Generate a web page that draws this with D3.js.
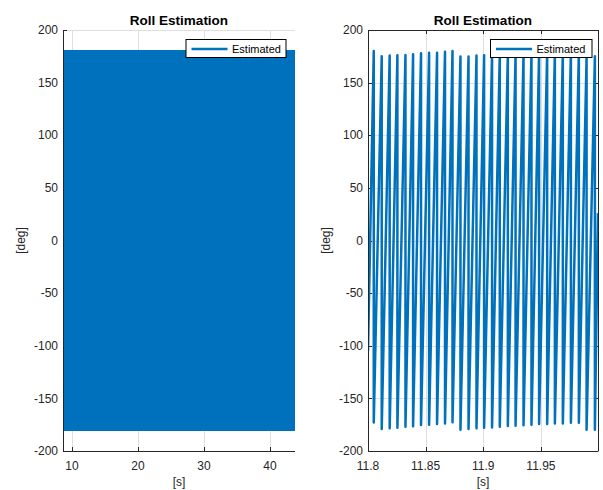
<!DOCTYPE html>
<html>
<head>
<meta charset="utf-8">
<script src="https://cdn.jsdelivr.net/npm/d3@7"></script>
<style>
  body { margin: 0; background: #fff; }
  svg { display: block; font-family: "Liberation Sans", Arial, Helvetica, sans-serif; }
</style>
</head>
<body>
<div id="chart"></div>
<script>
// Left panel: whole run, too dense to see single cycles -> min/max envelope
const envTimes = [8.6, 12, 16, 20, 24, 28, 32, 36, 40, 43.9];
const envMax = [180, 180, 180, 180, 180, 180, 180, 180, 180, 180];
const envMin = [-180, -180, -180, -180, -180, -180, -180, -180, -180, -180];

// Right panel: zoom 11.8 .. 12 s, wrap points of the sawtooth
const zoomStart = [11.8, -105];
const zoomEnd = [11.9995, 26];
const wrapTimes = [11.805, 11.8119, 11.8188, 11.8255, 11.8325, 11.8391, 11.846, 11.853, 11.8599, 11.8668,
    11.8733, 11.8802, 11.8872, 11.8941, 11.9007, 11.9076, 11.9143, 11.9213, 11.928, 11.9349,
    11.9418, 11.9484, 11.9554, 11.9621, 11.969, 11.976, 11.9829, 11.9896, 11.9968];
const peakValues = [180, 175, 175.7, 176, 176.2, 177, 177.8, 178.4, 178.4, 179.4,
    180, 174.8, 174.8, 175.7, 176, 176.5, 177, 177, 177.5, 178,
    178, 178.5, 178.5, 179, 179, 179.5, 179.5, 175, 175];
const troughValues = [-173, -179, -178.5, -177.9, -177, -176.6, -175.3, -175, -174.4, -173.8,
    -172.8, -179.8, -179, -178.5, -177.9, -177.6, -177, -176.3, -176, -175.6,
    -175, -174.4, -174.4, -173.8, -173.8, -173.1, -173.1, -179.8, -179.8];

const yTicks = [-200, -150, -100, -50, 0, 50, 100, 150, 200];
const leftXTicks = [10, 20, 30, 40];
const rightXTicks = [11.8, 11.85, 11.9, 11.95];
const rightXLabels = ["11.8", "11.85", "11.9", "11.95"];

const blue = "#0072BD";
const axisColor = "#262626";
const gridColor = "#dfdfdf";

const svg = d3.select("#chart").append("svg")
    .attr("width", 603)
    .attr("height", 490);

// one axes box, MATLAB style
function panel(opts) {
    const {left, right, top, bottom, xDomain, xTicks, xLabels, box, id} = opts;
    const width = right - left;
    const height = bottom - top;

    const x = d3.scaleLinear().domain(xDomain).range([0, width]);
    const y = d3.scaleLinear().domain([-200, 200]).range([height, 0]);

    const g = svg.append("g").attr("transform", `translate(${left},${top})`);

    // grid
    g.append("g").selectAll("line").data(xTicks).enter().append("line")
        .attr("x1", d => Math.round(x(d)) + 0.5).attr("x2", d => Math.round(x(d)) + 0.5)
        .attr("y1", 0).attr("y2", height)
        .attr("stroke", gridColor);
    g.append("g").selectAll("line").data(yTicks).enter().append("line")
        .attr("x1", 0).attr("x2", width)
        .attr("y1", d => Math.round(y(d)) + 0.5).attr("y2", d => Math.round(y(d)) + 0.5)
        .attr("stroke", gridColor);

    // ticks (under the data)
    const tk = 4;
    const ticks = g.append("g").attr("stroke", axisColor);
    ticks.selectAll(".xt").data(xTicks).enter().append("line")
        .attr("x1", d => Math.round(x(d)) + 0.5).attr("x2", d => Math.round(x(d)) + 0.5)
        .attr("y1", height).attr("y2", height - tk);
    ticks.selectAll(".yt").data(yTicks).enter().append("line")
        .attr("x1", 0).attr("x2", tk)
        .attr("y1", d => Math.round(y(d)) + 0.5).attr("y2", d => Math.round(y(d)) + 0.5);
    if (box) {
        ticks.selectAll(".xt2").data(xTicks).enter().append("line")
            .attr("x1", d => Math.round(x(d)) + 0.5).attr("x2", d => Math.round(x(d)) + 0.5)
            .attr("y1", 0).attr("y2", tk);
        ticks.selectAll(".yt2").data(yTicks).enter().append("line")
            .attr("x1", width).attr("x2", width - tk)
            .attr("y1", d => Math.round(y(d)) + 0.5).attr("y2", d => Math.round(y(d)) + 0.5);
    }

    g.append("clipPath").attr("id", id)
        .append("rect").attr("x", 0).attr("y", 0).attr("width", width).attr("height", height);
    const plotArea = g.append("g").attr("clip-path", `url(#${id})`);

    // axis lines
    const lines = g.append("g").attr("stroke", axisColor).attr("fill", "none");
    lines.append("line").attr("x1", 0.5).attr("x2", 0.5).attr("y1", 0).attr("y2", height + 0.5);
    lines.append("line").attr("x1", 0).attr("x2", width).attr("y1", height + 0.5).attr("y2", height + 0.5);
    if (box) {
        lines.append("line").attr("x1", 0).attr("x2", width).attr("y1", 0.5).attr("y2", 0.5);
        lines.append("line").attr("x1", width + 0.5).attr("x2", width + 0.5).attr("y1", 0).attr("y2", height + 0.5);
    }

    // tick labels
    g.append("g").selectAll("text").data(xTicks).enter().append("text")
        .attr("x", d => x(d))
        .attr("y", height + 18.5)
        .attr("text-anchor", "middle")
        .attr("font-size", 12)
        .attr("fill", axisColor)
        .text((d, i) => xLabels[i]);
    g.append("g").selectAll("text").data(yTicks).enter().append("text")
        .attr("x", -5)
        .attr("y", d => y(d))
        .attr("dy", "0.35em")
        .attr("text-anchor", "end")
        .attr("font-size", 12)
        .attr("fill", axisColor)
        .text(d => d);

    // title and labels
    g.append("text")
        .attr("x", width / 2).attr("y", -5.5)
        .attr("text-anchor", "middle")
        .attr("font-size", 13.5).attr("font-weight", "bold")
        .attr("fill", "#000")
        .text("Roll Estimation");
    g.append("text")
        .attr("x", width / 2).attr("y", height + 35)
        .attr("text-anchor", "middle")
        .attr("font-size", 12)
        .attr("fill", axisColor)
        .text("[s]");
    g.append("text")
        .attr("transform", `translate(${-38},${height / 2}) rotate(-90)`)
        .attr("text-anchor", "middle")
        .attr("font-size", 12)
        .attr("fill", axisColor)
        .text("[deg]");

    return {g, x, y, width, height, plotArea, lines};
}

function legend(p, boxLeft, boxRight) {
    const lg = p.g.append("g").attr("transform", `translate(${boxLeft - p.x.range()[0]},9)`);
    const w = boxRight - boxLeft;
    lg.append("rect")
        .attr("x", 0.5).attr("y", 0.5)
        .attr("width", w).attr("height", 18)
        .attr("fill", "#fff").attr("stroke", "#000");
    lg.append("line")
        .attr("x1", 6).attr("x2", 42)
        .attr("y1", 10).attr("y2", 10)
        .attr("stroke", blue).attr("stroke-width", 2.5);
    lg.append("text")
        .attr("x", 46.5).attr("y", 14)
        .attr("font-size", 11)
        .attr("fill", "#000")
        .text("Estimated");
}

// left panel
const pl = panel({
    left: 63, right: 295, top: 30, bottom: 451,
    xDomain: [8.64, 43.8], xTicks: leftXTicks, xLabels: leftXTicks.map(String),
    box: false, id: "clipL"
});
const envData = envTimes.map((t, i) => ({t, lo: envMin[i], hi: envMax[i]}));
pl.plotArea.append("path")
    .datum(envData)
    .attr("fill", blue)
    .attr("stroke", blue)
    .attr("stroke-width", 2)
    .attr("d", d3.area()
        .x(d => pl.x(d.t))
        .y0(d => pl.y(d.lo))
        .y1(d => pl.y(d.hi)));
pl.lines.raise();
legend(pl, 122.5, 222.5);

// right panel
const pr = panel({
    left: 368, right: 598, top: 30, bottom: 451,
    xDomain: [11.8, 11.9995], xTicks: rightXTicks, xLabels: rightXLabels,
    box: true, id: "clipR"
});
const saw = [zoomStart];
wrapTimes.forEach((t, i) => {
    saw.push([t, peakValues[i]]);
    saw.push([t, troughValues[i]]);
});
saw.push(zoomEnd);
pr.plotArea.append("path")
    .datum(saw)
    .attr("fill", "none")
    .attr("stroke", blue)
    .attr("stroke-width", 2.5)
    .attr("stroke-linejoin", "round")
    .attr("d", d3.line()
        .x(d => pr.x(d[0]))
        .y(d => pr.y(d[1])));
pr.lines.raise();
legend(pr, 122, 223.5);
</script>
</body>
</html>
